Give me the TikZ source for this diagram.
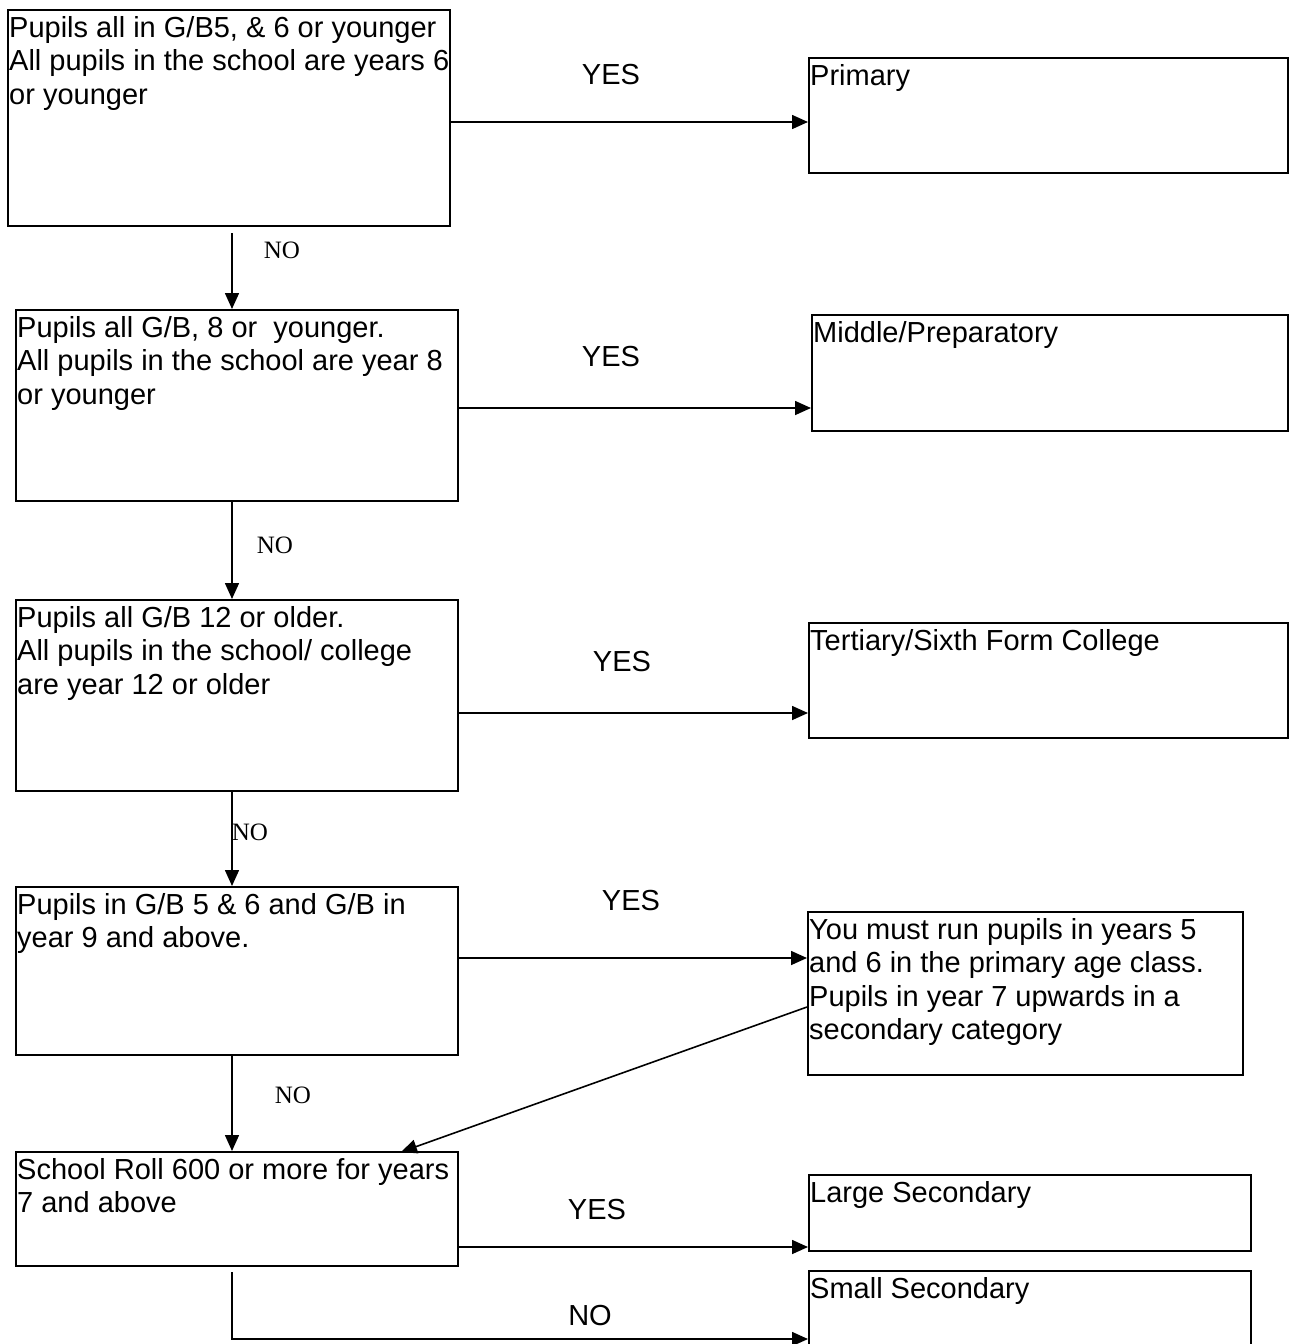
\documentclass[tikz,border=0pt]{standalone}
\usepackage{fontspec}
\setmainfont{Liberation Sans}
\newfontfamily\tnrfont{Liberation Serif}
\usetikzlibrary{arrows.meta}
\begin{document}
\begin{tikzpicture}[x=1pt,y=-1pt,
  box/.style={draw,line width=1.8pt,inner sep=0pt,anchor=north west},
  txt/.style={anchor=north west,align=left,inner xsep=2pt,inner ysep=7pt,font=\fontsize{29}{33.5}\selectfont},
  yeslab/.style={font=\fontsize{29}{33.5}\selectfont,inner sep=0pt},
  nolab/.style={font=\tnrfont\fontsize{25}{28}\selectfont,inner sep=0pt},
  arr/.style={line width=1.6pt,-{Triangle[length=16pt,width=14pt]}}]
\useasboundingbox (0,0) rectangle (1288,1344);
% boxes
\node[box,minimum width=442pt,minimum height=216pt] (A) at (7,9) {};
\node[box,minimum width=479pt,minimum height=115pt] (P) at (808,57) {};
\node[box,minimum width=442pt,minimum height=191pt] (B) at (15,309) {};
\node[box,minimum width=476pt,minimum height=116pt] (M) at (811,314) {};
\node[box,minimum width=442pt,minimum height=191pt] (C) at (15,599) {};
\node[box,minimum width=479pt,minimum height=115pt] (T) at (808,622) {};
\node[box,minimum width=442pt,minimum height=168pt] (D) at (15,886) {};
\node[box,minimum width=435pt,minimum height=163pt] (Y) at (807,911) {};
\node[box,minimum width=442pt,minimum height=114pt] (E) at (15,1151) {};
\node[box,minimum width=442pt,minimum height=76pt] (L) at (808,1174) {};
\node[box,minimum width=442pt,minimum height=80pt] (S) at (808,1270) {};
% texts
\node[txt] (At) at (A.north west) {Pupils all in G/B5, \& 6 or younger\\All pupils in the school are years 6\\or younger};
\node[txt] (Pt) at (P.north west) {Primary};
\node[txt] (Bt) at (B.north west) {Pupils all G/B, 8 or\ \ younger.\\All pupils in the school are year 8\\or younger};
\node[txt] (Mt) at (M.north west) {Middle/Preparatory};
\node[txt] (Ct) at (C.north west) {Pupils all G/B 12 or older.\\All pupils in the school/ college\\are year 12 or older};
\node[txt] (Tt) at (T.north west) {Tertiary/Sixth Form College};
\node[txt] (Dt) at (D.north west) {Pupils in G/B 5 \& 6 and G/B in\\year 9 and above.};
\node[txt] (Yt) at (Y.north west) {You must run pupils in years 5\\and 6 in the primary age class.\\Pupils in year 7 upwards in a\\secondary category};
\node[txt] (Et) at (E.north west) {School Roll 600 or more for years\\7 and above};
\node[txt] (Lt) at (L.north west) {Large Secondary};
\node[txt] (St) at (S.north west) {Small Secondary};
% connectors
\draw[arr] (A.east |- 0,122) -- (P.west |- 0,122);
\draw[arr] (232,233) -- (B.north -| 232,0);
\draw[arr] (B.east |- 0,408) -- (M.west |- 0,408);
\draw[arr] (232,500) -- (C.north -| 232,0);
\draw[arr] (C.east |- 0,713) -- (T.west |- 0,713);
\draw[arr] (232,790) -- (D.north -| 232,0);
\draw[arr] (D.east |- 0,958) -- (Y.west |- 0,958);
\draw[arr] (232,1054) -- (E.north -| 232,0);
\coordinate (diagEnd) at (401,1152);
\draw[arr] (Y.west |- 0,1007) -- (diagEnd);
\draw[arr] (E.east |- 0,1247) -- (L.west |- 0,1247);
\coordinate (nobend) at (232,1339);
\draw[arr] (232,1272) -- (nobend) -- (S.west |- nobend);
% labels
\node[yeslab] (y1) at (611,75) {YES};
\node[yeslab] (y2) at (611,357) {YES};
\node[yeslab] (y3) at (622,662) {YES};
\node[yeslab] (y4) at (631,901) {YES};
\node[yeslab] (y5) at (597,1210) {YES};
\node[nolab] (n1) at (282,250) {NO};
\node[nolab] (n2) at (275,545) {NO};
\node[nolab] (n3) at (250,832) {NO};
\node[nolab] (n4) at (293,1095) {NO};
\node[yeslab] (n5) at (590,1316) {NO};
\end{tikzpicture}
\end{document}
